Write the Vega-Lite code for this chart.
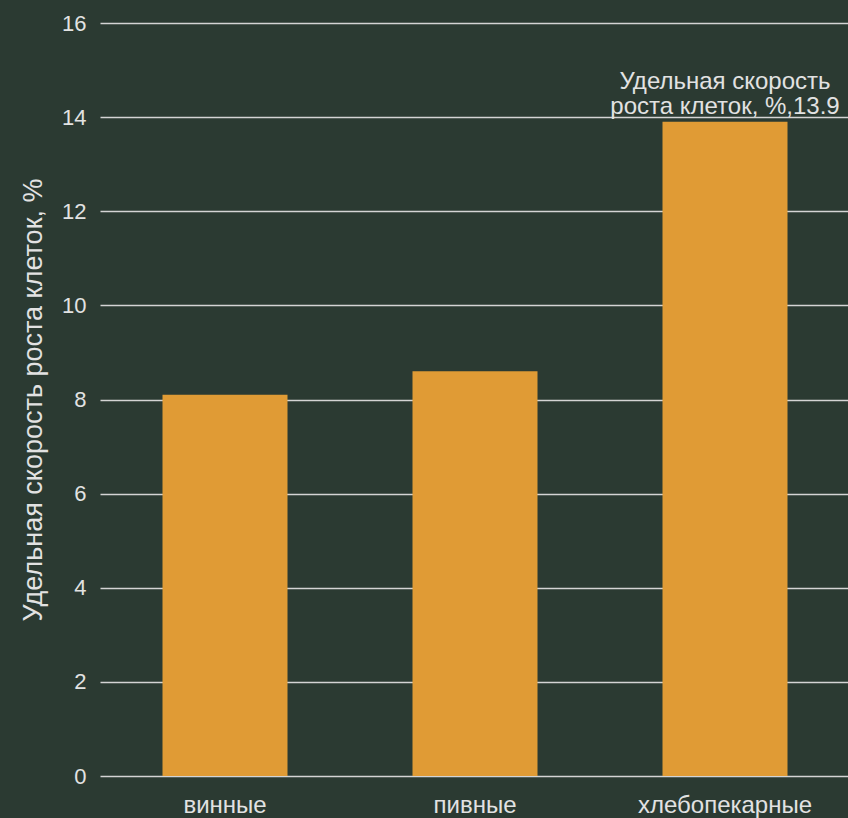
{
  "$schema": "https://vega.github.io/schema/vega-lite/v6.json",
  "autosize": "none",
  "width": 750,
  "height": 753,
  "padding": {"left": 100, "top": 23, "right": 0, "bottom": 42},
  "background": "#2b3a32",
  "config": {
    "view": {"stroke": null},
    "font": "Liberation Sans",
    "axis": {"labelColor": "#e2e2e2", "titleColor": "#e2e2e2", "labelFont": "Liberation Sans", "titleFont": "Liberation Sans"}
  },
  "data": {
    "values": [
      {"category": "винные", "value": 8.1, "label": ""},
      {"category": "пивные", "value": 8.6, "label": ""},
      {"category": "хлебопекарные", "value": 13.9, "label": "Удельная скорость\nроста клеток, %,13.9"}
    ]
  },
  "encoding": {
    "x": {
      "field": "category", "type": "nominal", "sort": null,
      "scale": {"paddingInner": 0.5, "paddingOuter": 0.25},
      "axis": {"title": null, "labelAngle": 0, "labelFontSize": 24, "labelPadding": 17, "ticks": false, "domain": false, "grid": false}
    },
    "y": {
      "field": "value", "type": "quantitative",
      "scale": {"domain": [0, 16], "nice": false},
      "axis": {
        "title": "Удельная скорость роста клеток, %",
        "titleFontSize": 27, "titleFontWeight": "normal", "titlePadding": 14,
        "labelFontSize": 22, "labelPadding": 14,
        "values": [0, 2, 4, 6, 8, 10, 12, 14, 16],
        "ticks": false, "domain": false,
        "gridColor": "#d4d4d4", "gridWidth": 1.5, "gridOpacity": 1
      }
    }
  },
  "layer": [
    {"mark": {"type": "bar", "color": "#e09b35"}},
    {
      "mark": {"type": "text", "baseline": "alphabetic", "align": "center", "dy": -33, "fontSize": 24, "color": "#e2e2e2", "lineBreak": "\n", "lineHeight": 25},
      "encoding": {"text": {"field": "label"}}
    }
  ]
}
